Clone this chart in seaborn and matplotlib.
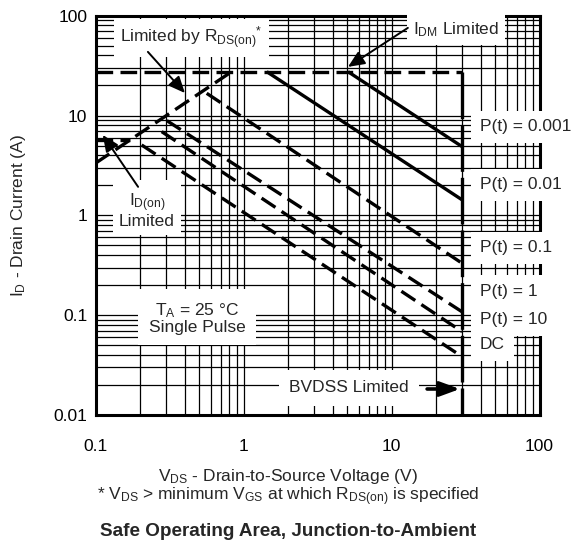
import numpy as np
import pandas as pd
import matplotlib
matplotlib.use("Agg")
import matplotlib.pyplot as plt
from matplotlib.ticker import FixedLocator, FixedFormatter, NullFormatter
import seaborn as sns

# ---------------- data ----------------
idm_v = [0.1, 30.0]
idm_i = [27.5, 27.5]

bvdss_v = [30.0, 30.0]
bvdss_i = [27.5, 0.01]

rds_v = [0.1, 0.832]
rds_i = [3.33, 27.5]

idon_v = [0.1, 0.17]
idon_i = [5.7, 5.7]

p0001_v = [5.08, 30.0]
p0001_i = [27.5, 4.88]

p001_v = [1.435, 30.0]
p001_i = [27.5, 1.43]

p01_v = [0.564, 30.0]
p01_i = [16.7, 0.331]

p1_v = [0.303, 30.0]
p1_i = [8.9, 0.108]

p10_v = [0.280, 30.0]
p10_i = [6.9, 0.0683]

dc_v = [0.205, 30.0]
dc_i = [5.07, 0.0384]

x_ticks = [0.1, 1, 10, 100]
x_tick_labels = ["0.1", "1", "10", "100"]
y_ticks = [0.01, 0.1, 1, 10, 100]
y_tick_labels = ["0.01", "0.1", "1", "10", "100"]

curve_labels = ["P(t) = 0.001", "P(t) = 0.01", "P(t) = 0.1", "P(t) = 1", "P(t) = 10", "DC"]
curve_label_i = [7.69, 2.02, 0.4716, 0.172, 0.0896, 0.0503]

# ---------------- style ----------------
sns.set_style("white")
plt.rcParams["font.family"] = ["Liberation Sans", "DejaVu Sans"]
plt.rcParams["mathtext.fontset"] = "custom"
plt.rcParams["mathtext.rm"] = "Liberation Sans"
plt.rcParams["mathtext.it"] = "Liberation Sans:italic"
plt.rcParams["mathtext.bf"] = "Liberation Sans:bold"

FS = 12.5
fig = plt.figure(figsize=(5.72, 5.44), dpi=100)
ax = fig.add_axes([95.5 / 572, 1 - 415 / 544, 444 / 572, 399.3 / 544])
ax.set_xscale("log")
ax.set_yscale("log")

LW = 2.4
dash = (0, (5, 2.2))


def draw(v, i, ls, z=3):
    df = pd.DataFrame({"V": v, "I": i})
    sns.lineplot(data=df, x="V", y="I", ax=ax, color="black", lw=LW,
                 linestyle=ls, estimator=None, sort=False, zorder=z,
                 solid_capstyle="butt", dash_capstyle="butt")


draw(idm_v, idm_i, dash)
draw(bvdss_v, bvdss_i, (0, (14, 1.8)))
draw(rds_v, rds_i, dash)
draw(idon_v, idon_i, dash)
draw(p0001_v, p0001_i, "-")
draw(p001_v, p001_i, "-")
draw(p01_v, p01_i, dash)
draw(p1_v, p1_i, dash)
draw(p10_v, p10_i, dash)
draw(dc_v, dc_i, dash)

ax.set_xlim(0.1, 100)
ax.set_ylim(0.01, 100)

ax.xaxis.set_major_locator(FixedLocator(x_ticks))
ax.xaxis.set_major_formatter(FixedFormatter(x_tick_labels))
ax.yaxis.set_major_locator(FixedLocator(y_ticks))
ax.yaxis.set_major_formatter(FixedFormatter(y_tick_labels))
ax.xaxis.set_minor_locator(matplotlib.ticker.LogLocator(base=10, subs=np.arange(2, 10)))
ax.yaxis.set_minor_locator(matplotlib.ticker.LogLocator(base=10, subs=np.arange(2, 10)))
ax.xaxis.set_minor_formatter(NullFormatter())
ax.yaxis.set_minor_formatter(NullFormatter())
ax.tick_params(which="both", length=0, labelsize=FS, colors="black")
ax.tick_params(axis="x", pad=17)
ax.tick_params(axis="y", pad=6)
ax.grid(True, which="both", color="black", lw=0.9)
ax.set_axisbelow(True)
for s in ax.spines.values():
    s.set_visible(True)
    s.set_color("black")
    s.set_linewidth(2.2)

ax.set_xlabel("")
ax.set_ylabel(r"I$_{\mathrm{D}}$ - Drain Current (A)", fontsize=FS)
ax.yaxis.set_label_coords(-0.152, 0.5)

box = dict(facecolor="white", edgecolor="none", boxstyle="square,pad=0.35")
TZ = 5

# labels on the right
for lab, yi in zip(curve_labels, curve_label_i):
    ax.text(39.6, yi, lab, fontsize=FS, ha="left", va="center", zorder=TZ,
            bbox=dict(facecolor="white", edgecolor="none", boxstyle="square,pad=0.5"))

ax.text(0.445, 59.9, r"Limited by R$_{\mathrm{DS(on)}}$$^{*}$", fontsize=FS,
        ha="center", va="center", zorder=TZ, bbox=box)
ax.text(27.3, 72.1, r"I$_{\mathrm{DM}}$ Limited", fontsize=FS,
        ha="center", va="center", zorder=TZ, bbox=box)
ax.text(0.223, 1.13, "I$_{\\mathrm{D(on)}}$\nLimited", fontsize=FS,
        ha="center", va="center", zorder=TZ, linespacing=1.0, bbox=box)
ax.text(0.485, 0.0937, "T$_{\\mathrm{A}}$ = 25 °C\nSingle Pulse", fontsize=FS,
        ha="center", va="center", zorder=TZ, linespacing=1.0,
        bbox=dict(facecolor="white", edgecolor="none", boxstyle="square,pad=0.6"))
ax.text(5.16, 0.01865, "BVDSS Limited", fontsize=FS,
        ha="center", va="center", zorder=TZ,
        bbox=dict(facecolor="white", edgecolor="none", boxstyle="square,pad=0.6"))

arrow = dict(arrowstyle="-|>,head_length=0.5,head_width=0.22", color="black", lw=1.4,
             mutation_scale=20, shrinkA=0, shrinkB=0)
ax.annotate("", xy=(0.402, 16.8), xytext=(0.226, 43.4), arrowprops=arrow, zorder=TZ + 1)
ax.annotate("", xy=(5.08, 30.7), xytext=(12.9, 75.5), arrowprops=arrow, zorder=TZ + 1)
ax.annotate("", xy=(0.112, 6.39), xytext=(0.194, 1.93), arrowprops=arrow, zorder=TZ + 1)
ax.annotate("", xy=(29.0, 0.01822), xytext=(17.4, 0.01822),
            arrowprops=dict(arrowstyle="-|>,head_length=0.6,head_width=0.22", color="black",
                            lw=2.6, mutation_scale=20, shrinkA=0, shrinkB=0), zorder=TZ + 1)

# x-axis label, footnote, caption
fig.text(288 / 572, 1 - 476.7 / 544, r"V$_{\mathrm{DS}}$ - Drain-to-Source Voltage (V)",
         fontsize=FS, ha="center", va="center")
fig.text(288 / 572, 1 - 496.7 / 544,
         r"* V$_{\mathrm{DS}}$ > minimum V$_{\mathrm{GS}}$ at which R$_{\mathrm{DS(on)}}$ is specified",
         fontsize=FS, ha="center", va="center")
fig.text(288 / 572, 1 - 531.7 / 544, "Safe Operating Area, Junction-to-Ambient",
         fontsize=13.6, ha="center", va="center", fontweight="bold")

fig.savefig("out.png", dpi=100, facecolor="white")
